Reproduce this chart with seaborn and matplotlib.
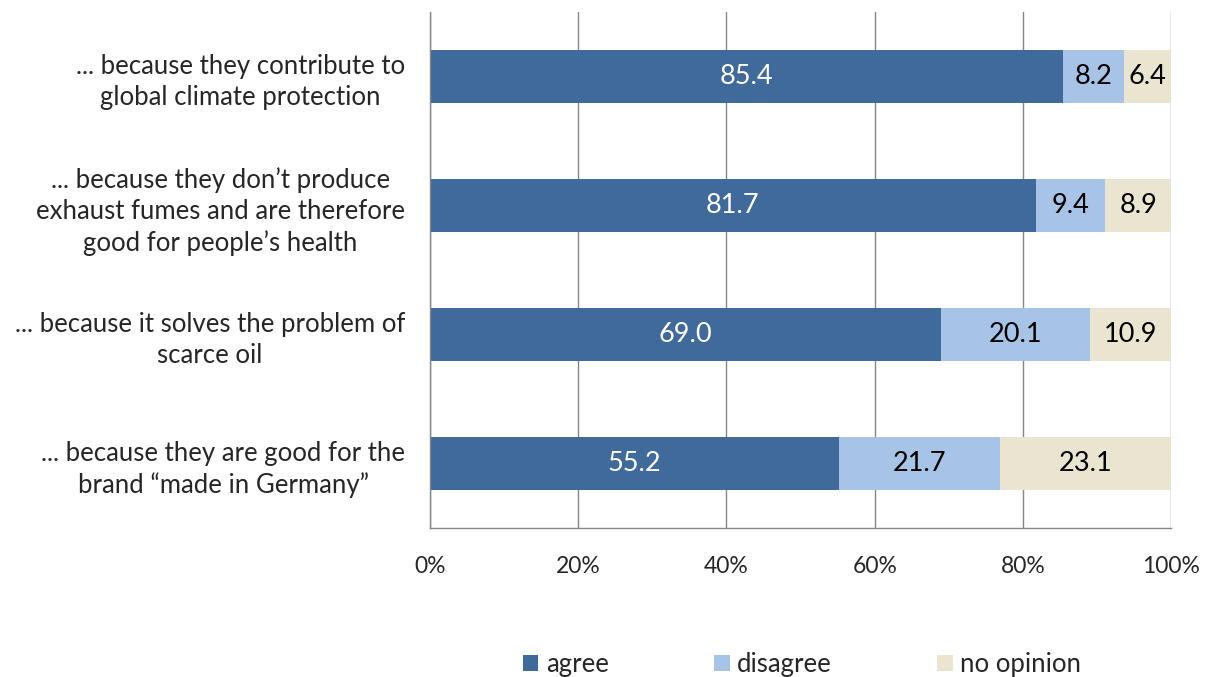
import numpy as np
import pandas as pd
import matplotlib
matplotlib.use("Agg")
import matplotlib.pyplot as plt
import seaborn as sns
from matplotlib.patches import Patch

statements = [
    "... because they contribute to\nglobal climate protection",
    "... because they don\u2019t produce\nexhaust fumes and are therefore\ngood for people\u2019s health",
    "... because it solves the problem of\nscarce oil",
    "... because they are good for the\nbrand \u201cmade in Germany\u201d",
]
agree = [85.4, 81.7, 69.0, 55.2]
disagree = [8.2, 9.4, 20.1, 21.7]
no_opinion = [6.4, 8.9, 10.9, 23.1]
series_names = ["agree", "disagree", "no opinion"]
series_colors = ["#3F6A9A", "#A7C3E5", "#EAE5D1"]
x_ticks = [0, 20, 40, 60, 80, 100]
x_tick_labels = ["0%", "20%", "40%", "60%", "80%", "100%"]

sns.set_theme(style="white")
plt.rcParams["font.family"] = ["Lato", "DejaVu Sans"]

df = pd.DataFrame({
    "statement": statements,
    "agree": agree,
    "disagree": disagree,
    "no opinion": no_opinion,
})
df["cum_agree"] = df["agree"]
df["cum_disagree"] = df["agree"] + df["disagree"]
df["cum_total"] = df["cum_disagree"] + df["no opinion"]

fig = plt.figure(figsize=(12.08, 6.77), dpi=100)
ax = fig.add_axes([0.356, 0.220, 0.6135, 0.762])

# stacked bars drawn as overlapping cumulative totals, back to front
for col, color in zip(["cum_total", "cum_disagree", "cum_agree"], series_colors[::-1]):
    sns.barplot(data=df, x=col, y="statement", orient="h", color=color,
                width=0.41, saturation=1, ax=ax, edgecolor="none")

# value labels centred in each segment
for i in range(len(statements)):
    starts = [0, agree[i], agree[i] + disagree[i]]
    vals = [agree[i], disagree[i], no_opinion[i]]
    for j, (s, v) in enumerate(zip(starts, vals)):
        ax.text(s + v / 2, i, f"{v:.1f}", ha="center", va="center",
                fontsize=19.5, color="white" if j == 0 else "black")

ax.set_xlim(0, 100)
ax.set_ylim(len(statements) - 0.5, -0.5)
ax.set_xticks(x_ticks)
ax.set_xticklabels(x_tick_labels, fontsize=16.5)
ax.set_xlabel("")
ax.set_ylabel("")
ax.set_yticks(range(len(statements)))
ax.set_yticklabels(statements, fontsize=18.5, ha="right")
for lbl in ax.get_yticklabels():
    lbl.set_multialignment("center")
    lbl.set_linespacing(1.3)
ax.tick_params(axis="y", length=0, pad=18)
ax.set_yticks(np.arange(-0.5, len(statements), 1.0), minor=True)
ax.tick_params(axis="y", which="minor", length=6, color="#868686", width=1, direction="out")
ax.tick_params(axis="x", length=6, color="#868686", width=1, direction="out", pad=14)
ax.xaxis.grid(True, color="#868686", linewidth=1)
ax.set_axisbelow(True)
for side in ["top", "right"]:
    ax.spines[side].set_visible(False)
for side in ["left", "bottom"]:
    ax.spines[side].set_color("#868686")
    ax.spines[side].set_linewidth(1)

handles = [Patch(facecolor=c, edgecolor="none") for c in series_colors]
fig.legend(handles, series_names, loc="center", bbox_to_anchor=(0.664, 0.018),
           ncol=3, frameon=False, fontsize=18.5, handlelength=0.6, handleheight=0.6,
           handletextpad=0.3, columnspacing=4.1)

fig.savefig("out.png", dpi=100)
